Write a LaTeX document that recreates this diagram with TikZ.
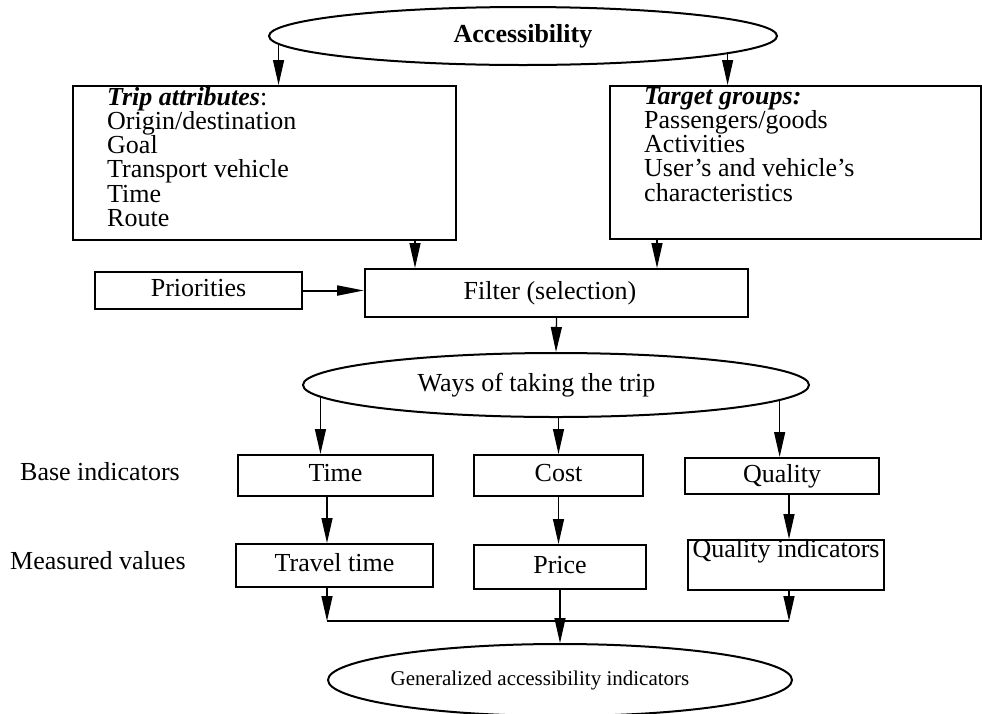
\documentclass[tikz,border=0pt]{standalone}
\usepackage{fontspec}
\setmainfont{Liberation Serif}
\usetikzlibrary{shapes,arrows.meta}

\begin{document}
\begin{tikzpicture}[x=1pt,y=-1pt]
\tikzstyle{box}=[draw, rectangle, line width=2pt, inner sep=0pt,
  text height=17pt, text depth=5pt, font=\fontsize{26}{24.2}\selectfont]
\tikzstyle{oval}=[draw, ellipse, line width=2pt, inner sep=0pt,
  text height=17pt, text depth=5pt, font=\fontsize{26}{24.2}\selectfont]
\tikzstyle{list}=[anchor=north west, align=left, inner sep=0pt,
  font=\fontsize{26}{24.2}\selectfont]
\tikzstyle{lbl}=[anchor=base west, inner sep=0pt, font=\fontsize{26}{24.2}\selectfont]
\tikzstyle{arr}=[line width=1.3pt, -{Triangle[length=25pt,width=11pt]}]
\tikzstyle{arrb}=[line width=2pt, -{Triangle[length=27pt,width=10pt]}]
\useasboundingbox (0,0) rectangle (982,713);

\node[oval, minimum width=508pt, minimum height=58pt] (acc) at (523,36) {\textbf{Accessibility}};

% attribute boxes
\node[box, minimum width=383pt, minimum height=154pt] (trip) at (264.5,163) {};
\node[list] (tripl) at ([shift={(35,2)}]trip.north west)
  {\textbf{\textit{Trip attributes}}:\\ Origin/destination\\ Goal\\ Transport vehicle\\ Time\\ Route};
\node[box, minimum width=371pt, minimum height=153pt] (target) at (795.5,162.5) {};
\node[list] (targetl) at ([shift={(35,2)}]target.north west)
  {\textbf{\textit{Target groups:}}\\ Passengers/goods\\ Activities\\ User's and vehicle's\\ characteristics};

\node[box, minimum width=207pt, minimum height=37pt] (prio) at (198.5,290.5) {Priorities};
\node[box, minimum width=383pt, minimum height=48pt] (filter) at (556.5,293) {\hspace*{-13pt}Filter (selection)};
\node[oval, minimum width=506pt, minimum height=64pt] (ways) at (556,385) {\hspace*{-39pt}Ways of taking the trip};

% indicators
\node[lbl] (baselbl) at (20,480) {Base indicators};
\node[box, minimum width=195pt, minimum height=41pt] (time) at (335.5,475.5) {Time};
\node[box, minimum width=169pt, minimum height=41pt] (cost) at (558.5,475.5) {Cost};
\node[box, minimum width=194pt, minimum height=36pt] (quality) at (782,476) {Quality};
\node[lbl] (measlbl) at (10,569) {Measured values};
\node[box, minimum width=197pt, minimum height=43pt] (travel) at (334.5,565.5) {Travel time};
\node[box, minimum width=172pt, minimum height=44pt] (price) at (560,567) {Price};
\node[box, minimum width=196pt, minimum height=50pt, text depth=33pt] (qualind) at (786,565) {Quality indicators};
\node[oval, minimum width=464pt, minimum height=72pt, text height=14pt, text depth=4pt,
  font=\fontsize{21}{24}\selectfont] (gen) at (560,680) {\hspace*{-40pt}Generalized accessibility indicators};

\coordinate (jl) at (327,621);
\coordinate (jr) at (789,621);

\draw[arr] (acc.182.6) -- (acc.182.6 |- trip.north);
\draw[arr] (acc.355.69) -- (acc.355.69 |- target.north);
\draw[arr] ([xshift=150.5pt]trip.south) -- ([xshift=150.5pt]trip.south |- filter.north);
\draw[arr] ([xshift=-138.5pt]target.south) -- ([xshift=-138.5pt]target.south |- filter.north);
\draw[arrb] (prio.east) -- (prio.east -| filter.west);
\draw[arr] (filter.south) -- (ways.north);
\draw[arr] (ways.183.32) -- (ways.183.32 |- time.north);
\draw[arr] (ways.south -| cost.north) -- (cost.north);
\draw[arr] (ways.356.94) -- (ways.356.94 |- quality.north);
\draw[arr] ([xshift=-8.5pt]time.south) -- ([xshift=-8.5pt]time.south |- travel.north);
\draw[arr] (cost.south) -- (cost.south |- price.north);
\draw[arr] ([xshift=7pt]quality.south) -- ([xshift=7pt]quality.south |- qualind.north);
\draw[arr] (travel.south -| jl) -- (jl);
\draw[arr] (qualind.south -| jr) -- (jr);
\draw[line width=2pt] (jl) -- (jr);
\draw[arr] (price.south) -- (gen.north);
\end{tikzpicture}
\end{document}
